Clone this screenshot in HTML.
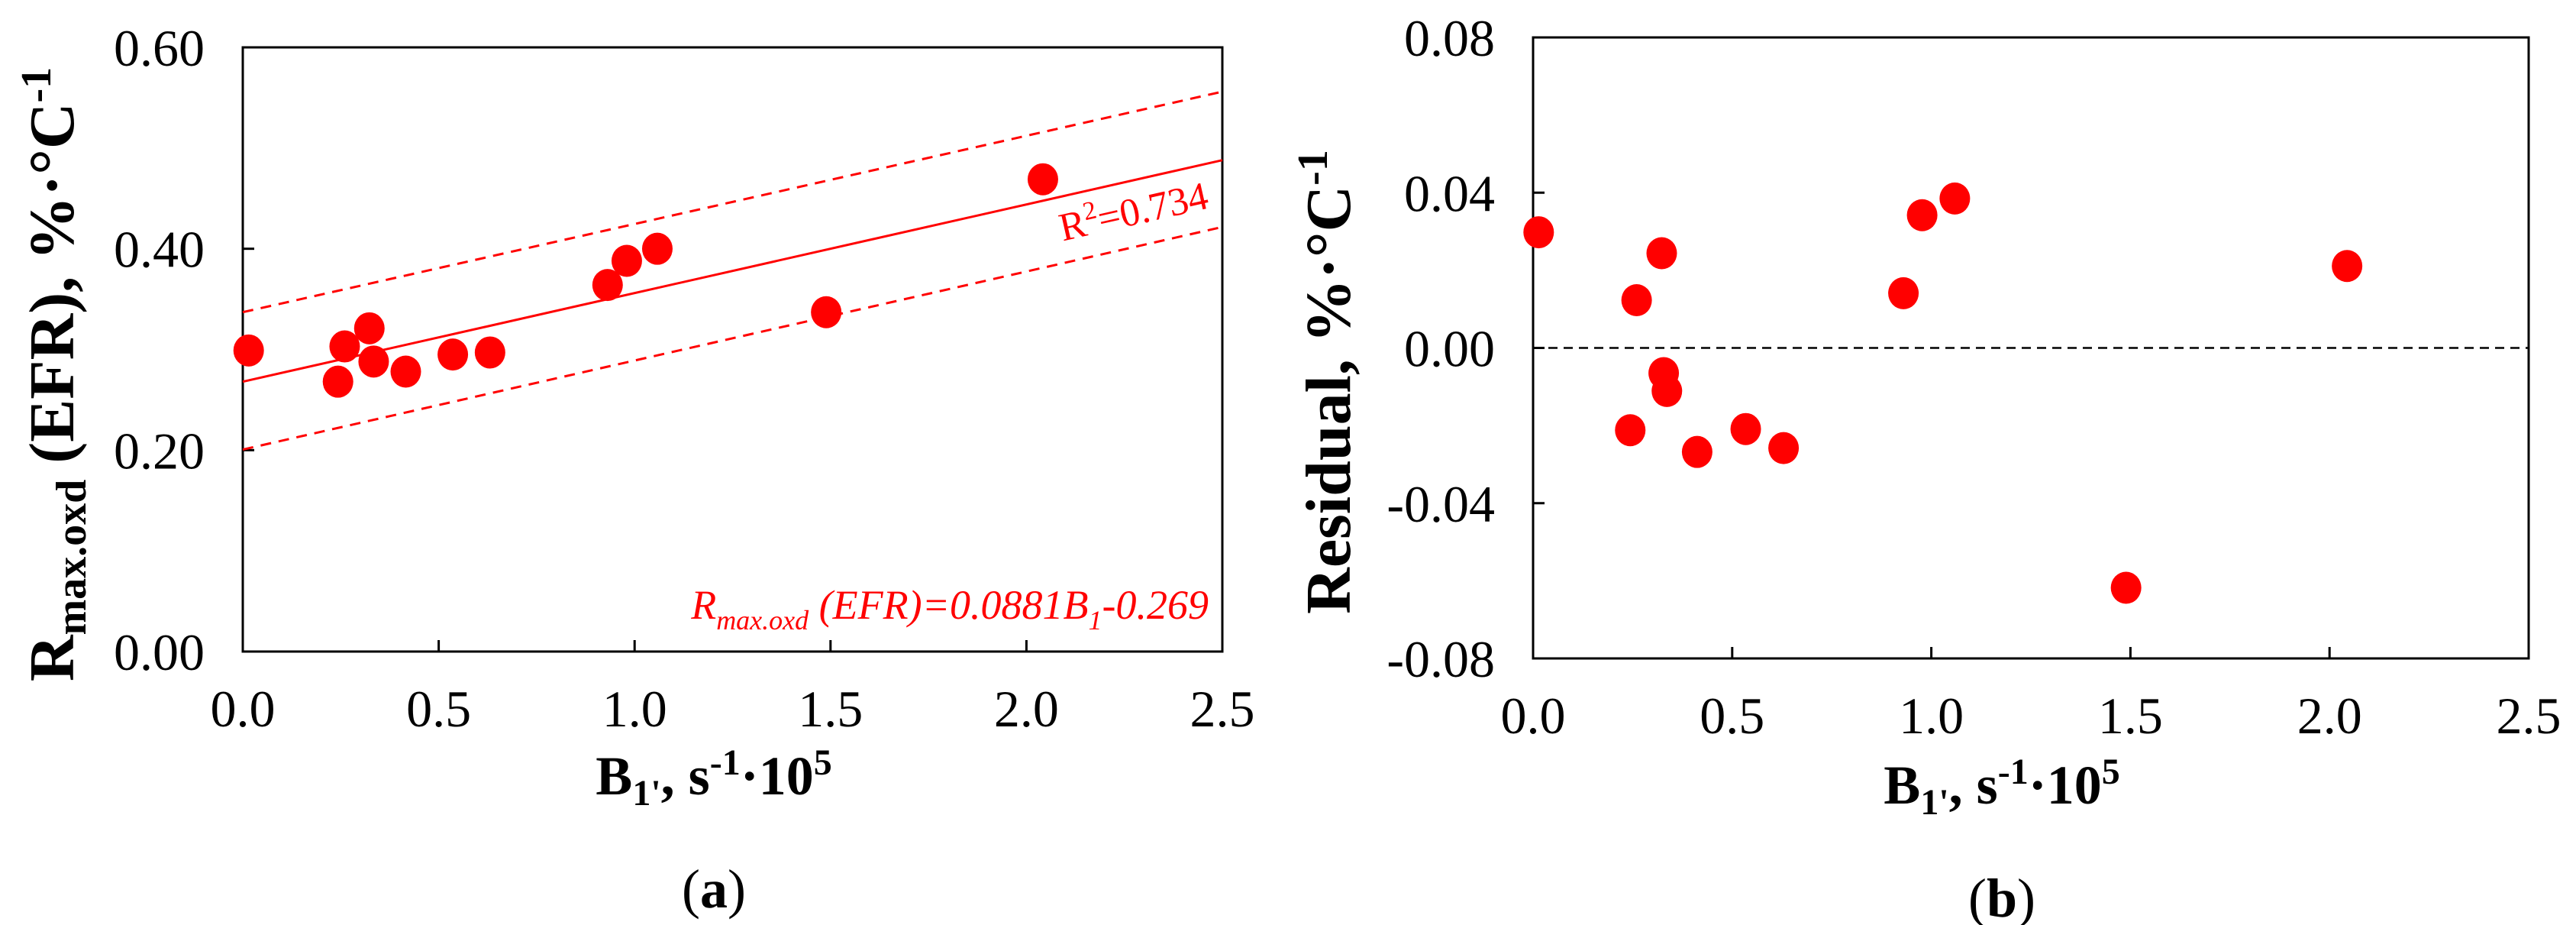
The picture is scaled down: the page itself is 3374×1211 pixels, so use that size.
<!DOCTYPE html>
<html><head><meta charset="utf-8"><style>
html,body{margin:0;padding:0;background:#fff;}
svg{display:block;font-family:"Liberation Serif",serif;}
</style></head><body>
<svg id="fig" width="3374" height="1211" viewBox="0 0 3374 1211">
<g id="ca"></g>
<g id="cb"></g>
</svg>
<script>
const B1 = [0.015,0.243,0.260,0.323,0.334,0.416,0.536,0.631,0.931,0.980,1.058,1.489,2.042];
const Rmax = [0.299,0.268,0.303,0.321,0.288,0.278,0.295,0.297,0.364,0.388,0.400,0.337,0.469];
const B1res = [0.014,0.260,0.323,0.328,0.336,0.244,0.412,0.534,0.629,0.930,0.977,1.059,1.489,2.044];
const Resid = [0.0298,0.0123,0.0244,-0.0065,-0.0111,-0.0212,-0.0268,-0.0209,-0.0258,0.0141,0.0342,0.0385,-0.0618,0.0211];
const fitLine = [0.268,0.488];
const upperBand = [0.337,0.556];
const lowerBand = [0.2006,0.4216];
const xTicks = [0.0,0.5,1.0,1.5,2.0,2.5];
const xTickLabels = ["0.0","0.5","1.0","1.5","2.0","2.5"];
const yTicksA = [0,0.2,0.4,0.6];
const yTickLabelsA = ["0.00","0.20","0.40","0.60"];
const yTicksB = [-0.08,-0.04,0,0.04,0.08];
const yTickLabelsB = ["-0.08","-0.04","0.00","0.04","0.08"];
const NS="http://www.w3.org/2000/svg";
function mk(p,t,a,txt){const e=document.createElementNS(NS,t);for(const k in a)e.setAttribute(k,a[k]);if(txt!==undefined)e.textContent=txt;p.appendChild(e);return e;}

function axes(g,L,R,T,B,ymin,ymax,yt,ytl){
  const sx=v=>L+(v-0)/(2.5-0)*(R-L);
  const sy=v=>B-(v-ymin)/(ymax-ymin)*(B-T);
  const fr=mk(g,'rect',{x:L,y:T,width:R-L,height:B-T,fill:'none',stroke:'#000','stroke-width':3});
  
  
  xTicks.forEach((v,i)=>{
    const tk=mk(g,'line',{x1:sx(v),x2:sx(v),y1:B,y2:B-15,stroke:'#000','stroke-width':3});
    
    
    const t=mk(g,'text',{x:sx(v),y:B+98,'text-anchor':'middle','font-size':68},xTickLabels[i]);
    
    
  });
  yt.forEach((v,i)=>{
    const tk=mk(g,'line',{x1:L,x2:L+15,y1:sy(v),y2:sy(v),stroke:'#000','stroke-width':3});
    
    
    const t=mk(g,'text',{x:L-50,y:sy(v)+24,'text-anchor':'end','font-size':68},ytl[i]);
    
    
  });
  return {sx,sy};
}
function dots(g,xs,ys,sx,sy){
  xs.forEach((x,i)=>{
    const c=mk(g,'ellipse',{cx:sx(x),cy:sy(ys[i]),rx:20,ry:21,fill:'#ff0000'});
    
    
  });
}
function xTitle(g,cx,y,label){
  const t=mk(g,'text',{x:cx,y:y,'text-anchor':'middle','font-size':72,'font-weight':'bold'});
  t.innerHTML='B<tspan font-size="48" dy="14">1\'</tspan><tspan dy="-14">, s</tspan><tspan font-size="48" dy="-26">-1</tspan><tspan dy="26">·10</tspan><tspan font-size="48" dy="-26">5</tspan>';
  
  
  const p=mk(g,'text',{x:cx,y:y+148,'text-anchor':'middle','font-size':72});
  p.innerHTML='(<tspan font-weight="bold">'+label+'</tspan>)';
  
  
}
// Chart A
const ga=document.getElementById('ca');
const A=axes(ga,318,1601,62,853,0,0.6,yTicksA,yTickLabelsA);
[[upperBand,'14,10','upper-prediction-band'],[lowerBand,'14,10','lower-prediction-band'],[fitLine,null,'fit-line']].forEach(([arr,da,nm])=>{
  const l=mk(ga,'line',{x1:A.sx(0),y1:A.sy(arr[0]),x2:A.sx(2.5),y2:A.sy(arr[1]),stroke:'#ff0000','stroke-width':3});
  if(da)l.setAttribute('stroke-dasharray',da);
  
  
});
dots(ga,B1,Rmax,A.sx,A.sy);
const ang=Math.atan2(A.sy(fitLine[1])-A.sy(fitLine[0]),A.sx(2.5)-A.sx(0))*180/Math.PI;
const r2=mk(ga,'text',{x:1585,y:272,'text-anchor':'end','font-size':52,fill:'#ff0000',transform:'rotate('+ang+' 1585 272)'});
r2.innerHTML='R<tspan font-size="34" dy="-20">2</tspan><tspan dy="20">=0.734</tspan>';


const eq=mk(ga,'text',{x:1583,y:810,'text-anchor':'end','font-size':54,'font-style':'italic',fill:'#ff0000'});
eq.innerHTML='R<tspan font-size="36" dy="14">max.oxd</tspan><tspan dy="-14"> (EFR)=0.0881B</tspan><tspan font-size="36" dy="14">1</tspan><tspan dy="-14">-0.269</tspan>';


const yta=mk(ga,'text',{x:0,y:0,'text-anchor':'middle','font-size':84,'font-weight':'bold',transform:'translate(96 490) rotate(-90)'});
yta.innerHTML='R<tspan font-size="56" dy="16">max.oxd</tspan><tspan dy="-16"> (EFR),  %·°C</tspan><tspan font-size="56" dy="-30">-1</tspan>';


xTitle(ga,935,1040,'a');
// Chart B
const gb=document.getElementById('cb');
const Bx=axes(gb,2008,3312,49,862,-0.08,0.08,yTicksB,yTickLabelsB);
const zl=mk(gb,'line',{x1:2008,x2:3312,y1:Bx.sy(0),y2:Bx.sy(0),stroke:'#000','stroke-width':2.5,'stroke-dasharray':'12,8'});


dots(gb,B1res,Resid,Bx.sx,Bx.sy);
const ytb=mk(gb,'text',{x:0,y:0,'text-anchor':'middle','font-size':84,'font-weight':'bold',transform:'translate(1768 500) rotate(-90)'});
ytb.innerHTML='Residual,  %·°C<tspan font-size="56" dy="-30">-1</tspan>';


xTitle(gb,2622,1052,'b');
</script>
</body></html>
